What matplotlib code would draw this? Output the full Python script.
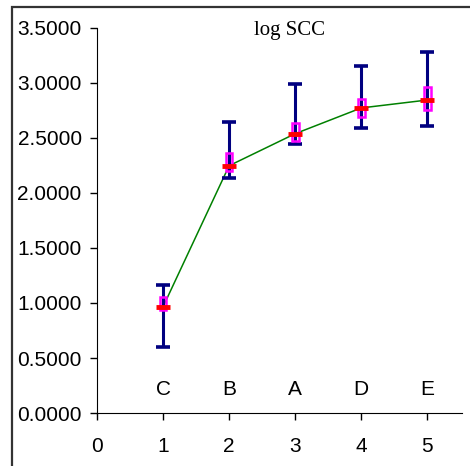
import numpy as np
import matplotlib.pyplot as plt
from matplotlib.patches import Rectangle

plt.rcParams['font.family'] = ['Liberation Sans', 'DejaVu Sans']

# values
xpos = [1, 2, 3, 4, 5]
groups = ["C", "B", "A", "D", "E"]
mean = [0.966, 2.248, 2.539, 2.773, 2.845]
err_hi = [1.164, 2.648, 2.990, 3.155, 3.279]
err_lo = [0.600, 2.139, 2.448, 2.590, 2.609]
box_hi = [1.050, 2.366, 2.640, 2.855, 2.964]
box_lo = [0.940, 2.200, 2.470, 2.688, 2.757]

mean = np.array(mean)
yerr = [mean - np.array(err_lo), np.array(err_hi) - mean]

fig = plt.figure(figsize=(4.7, 4.66), dpi=100)
ax = fig.add_axes([0.2064, 0.1137, 0.9830 - 0.2064, 0.94 - 0.1137])

ax.plot(xpos, mean, color="#008000", lw=1.1, zorder=2)
ax.errorbar(xpos, mean, yerr=yerr, fmt="none", ecolor="#000080",
            elinewidth=2.2, capsize=4.8, capthick=2.6, zorder=3)
ax.bar(xpos, np.array(box_hi) - np.array(box_lo), bottom=box_lo, width=0.1,
       fill=False, edgecolor="#ff00ff", lw=1.8, zorder=4)
ax.plot(xpos, mean, ls="none", marker="_", color="#ff0000",
        markersize=10, mew=3.5, zorder=5)

for x, g in zip(xpos, groups):
    ax.text(x, 0.21, g, ha="center", va="center", fontsize=15)

ax.text(0.5, 0.98, "log SCC", transform=fig.transFigure, fontsize=15,
        family="Liberation Serif", ha="center")
ax.texts[-1].set_position((290 / 470, 1 - 31 / 466))
ax.texts[-1].set_va("center")

ax.set_xlim(0, 5.525)
ax.set_ylim(0, 3.5)
ax.set_xticks([0, 1, 2, 3, 4, 5])
ax.set_yticks(np.arange(0, 3.51, 0.5))
ax.set_yticklabels([f"{v:.4f}" for v in np.arange(0, 3.51, 0.5)])
ax.tick_params(labelsize=15, length=5, width=1, pad=6)
ax.tick_params(axis="x", pad=12)
ax.spines["top"].set_visible(False)
ax.spines["right"].set_visible(False)

# outer chart frame (only left and top edges visible in the picture)
fig.patches.append(Rectangle((12 / 470, -0.1), 1.2, 1 - 7 / 466 + 0.1,
                             transform=fig.transFigure, fill=False,
                             edgecolor="#333333", lw=1.6))

fig.savefig("out.png", dpi=100)
